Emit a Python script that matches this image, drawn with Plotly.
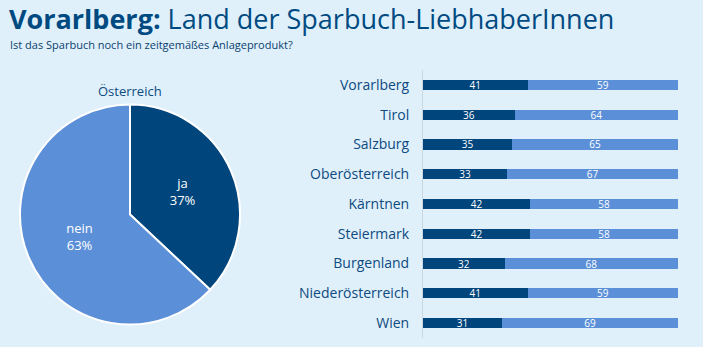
import plotly.graph_objects as go

regions = ["Vorarlberg", "Tirol", "Salzburg", "Oberösterreich", "Kärntnen",
           "Steiermark", "Burgenland", "Niederösterreich", "Wien"]
ja_vals = [41, 36, 35, 33, 42, 42, 32, 41, 31]
nein_vals = [59, 64, 65, 67, 58, 58, 68, 59, 69]
pie_labels = ["ja", "nein"]
pie_vals = [37, 63]

DARK = "#00467c"
LIGHT = "#5b8fd7"
BG = "#dff0fb"
TXT = "#0d4a80"
FONT = "Open Sans"
W, H = 703, 347

fig = go.Figure()

fig.add_trace(go.Pie(
    labels=pie_labels, values=pie_vals, sort=False, direction="clockwise",
    rotation=0, marker=dict(colors=[DARK, LIGHT], line=dict(color="white", width=2)),
    textinfo="label+percent", texttemplate="%{label}<br>%{percent:.0%}",
    textposition="inside", insidetextorientation="horizontal",
    textfont=dict(color="white", size=13, family=FONT),
    domain=dict(x=[20 / W, 240 / W], y=[1 - 326 / H, 1 - 103 / H]),
    showlegend=False, hoverinfo="label+percent",
))

fig.add_trace(go.Bar(
    y=regions, x=ja_vals, orientation="h", marker=dict(color=DARK, line=dict(width=0)),
    text=[str(v) for v in ja_vals], textposition="inside", insidetextanchor="middle",
    textangle=0, textfont=dict(color="white", size=10, family=FONT), showlegend=False,
    xaxis="x", yaxis="y", cliponaxis=False,
))
fig.add_trace(go.Bar(
    y=regions, x=nein_vals, orientation="h", marker=dict(color=LIGHT, line=dict(width=0)),
    text=[str(v) for v in nein_vals], textposition="inside", insidetextanchor="middle",
    textangle=0, textfont=dict(color="white", size=10, family=FONT), showlegend=False,
    xaxis="x", yaxis="y", cliponaxis=False,
))

fig.update_layout(
    width=W, height=H, margin=dict(l=0, r=0, t=0, b=0),
    paper_bgcolor=BG, plot_bgcolor=BG, barmode="stack", bargap=0.66,
    font=dict(family=FONT, color=TXT),
    uniformtext=dict(minsize=10, mode="show"),
    xaxis=dict(domain=[423 / W, 678 / W], range=[0, 100], showgrid=False,
               zeroline=False, showticklabels=False, showline=False, fixedrange=True),
    yaxis=dict(domain=[1 - 338 / H, 1 - 70 / H], autorange="reversed",
               showgrid=False, zeroline=False, showline=True, linecolor="#c9d6df",
               linewidth=1, ticks="", ticklabelstandoff=10,
               tickfont=dict(size=14, color=TXT, family=FONT)),
    annotations=[
        dict(text="<b>Vorarlberg:</b> Land der Sparbuch-LiebhaberInnen",
             x=7 / W, y=1 + 2 / H, xref="paper", yref="paper", xanchor="left",
             yanchor="top", showarrow=False, font=dict(size=27, color="#004a82", family=FONT)),
        dict(text="Ist das Sparbuch noch ein zeitgemäßes Anlageprodukt?",
             x=8 / W, y=1 - 44 / H, xref="paper", yref="paper", xanchor="left",
             yanchor="middle", showarrow=False, font=dict(size=11, color="#0b3f6e", family=FONT)),
        dict(text="Österreich", x=130 / W, y=1 - 91 / H, xref="paper", yref="paper",
             xanchor="center", yanchor="middle", showarrow=False,
             font=dict(size=13, color=TXT, family=FONT)),
    ],
)

fig.write_html("out.html")
